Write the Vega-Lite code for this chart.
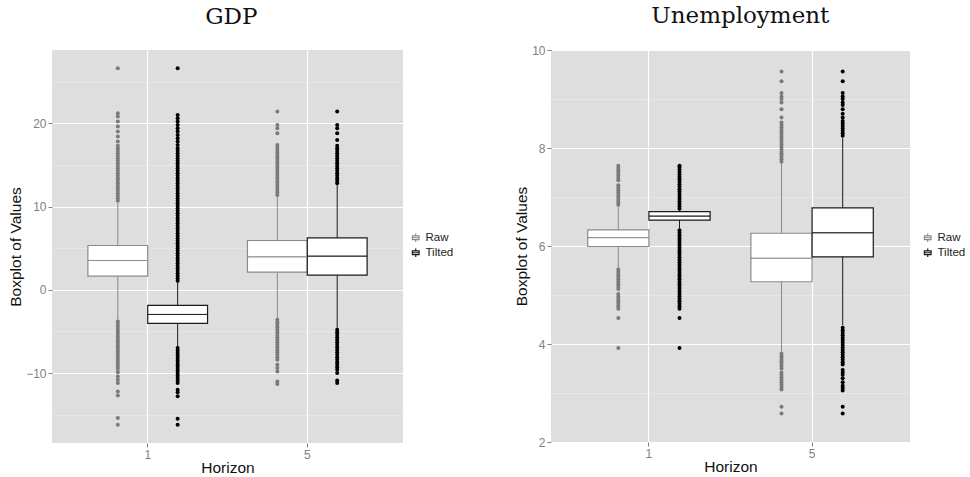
{
  "$schema": "https://vega.github.io/schema/vega-lite/v6.json",
  "background": "white",
  "padding": {"left": 8, "top": 5, "right": 0, "bottom": 0},
  "spacing": 60,
  "config": {
    "font": "Liberation Sans",
    "view": {"fill": "#dedede", "stroke": null},
    "title": {"font": "DejaVu Serif", "fontSize": 23, "fontWeight": "normal", "color": "#111111", "anchor": "middle", "frame": "bounds", "offset": 21},
    "axis": {"labelFontSize": 12, "labelColor": "#7f7f7f", "tickColor": "#7f7f7f", "tickSize": 4, "labelPadding": 2, "domain": false, "titleFontSize": 15.5, "titleFontWeight": "normal", "titleColor": "#111111", "titlePadding": 2, "gridColor": "#ffffff", "gridWidth": 1.2},
    "legend": {"labelFontSize": 11.5, "labelColor": "#222222", "rowPadding": 1, "symbolFillColor": "white"}
  },
  "resolve": {"scale": {"y": "independent", "x": "independent", "xOffset": "independent", "stroke": "independent", "fill": "independent", "color": "independent"}, "legend": {"stroke": "independent"}},
  "datasets": {
    "gdp_box": [
      {"horizon": "1", "series": "Raw", "lower": -3.6, "q1": 1.64, "median": 3.52, "q3": 5.32, "upper": 10.5},
      {"horizon": "1", "series": "Tilted", "lower": -6.9, "q1": -4.04, "median": -2.96, "q3": -1.88, "upper": 1.0},
      {"horizon": "5", "series": "Raw", "lower": -3.5, "q1": 2.12, "median": 3.96, "q3": 5.92, "upper": 11.3},
      {"horizon": "5", "series": "Tilted", "lower": -4.7, "q1": 1.76, "median": 4.04, "q3": 6.24, "upper": 12.7}
    ],
    "gdp_out": [
      {"horizon": "1", "series": "Raw", "value": 10.7}, {"horizon": "1", "series": "Raw", "value": 11.0}, {"horizon": "1", "series": "Raw", "value": 11.3}, {"horizon": "1", "series": "Raw", "value": 11.6}, {"horizon": "1", "series": "Raw", "value": 11.9}, {"horizon": "1", "series": "Raw", "value": 12.2}, {"horizon": "1", "series": "Raw", "value": 12.5}, {"horizon": "1", "series": "Raw", "value": 12.8}, {"horizon": "1", "series": "Raw", "value": 13.1}, {"horizon": "1", "series": "Raw", "value": 13.4}, {"horizon": "1", "series": "Raw", "value": 13.7}, {"horizon": "1", "series": "Raw", "value": 14.0}, {"horizon": "1", "series": "Raw", "value": 14.3}, {"horizon": "1", "series": "Raw", "value": 14.6}, {"horizon": "1", "series": "Raw", "value": 14.9}, {"horizon": "1", "series": "Raw", "value": 15.2}, {"horizon": "1", "series": "Raw", "value": 15.5}, {"horizon": "1", "series": "Raw", "value": 15.8}, {"horizon": "1", "series": "Raw", "value": 16.1}, {"horizon": "1", "series": "Raw", "value": 16.4}, {"horizon": "1", "series": "Raw", "value": 16.7}, {"horizon": "1", "series": "Raw", "value": 17.0}, {"horizon": "1", "series": "Raw", "value": 17.3}, {"horizon": "1", "series": "Raw", "value": 17.8}, {"horizon": "1", "series": "Raw", "value": 18.4}, {"horizon": "1", "series": "Raw", "value": 19.0}, {"horizon": "1", "series": "Raw", "value": 19.6}, {"horizon": "1", "series": "Raw", "value": 20.2}, {"horizon": "1", "series": "Raw", "value": 20.8}, {"horizon": "1", "series": "Raw", "value": 21.2}, {"horizon": "1", "series": "Raw", "value": 26.6},
      {"horizon": "1", "series": "Raw", "value": -3.8}, {"horizon": "1", "series": "Raw", "value": -4.1}, {"horizon": "1", "series": "Raw", "value": -4.4}, {"horizon": "1", "series": "Raw", "value": -4.7}, {"horizon": "1", "series": "Raw", "value": -5.0}, {"horizon": "1", "series": "Raw", "value": -5.3}, {"horizon": "1", "series": "Raw", "value": -5.6}, {"horizon": "1", "series": "Raw", "value": -5.9}, {"horizon": "1", "series": "Raw", "value": -6.2}, {"horizon": "1", "series": "Raw", "value": -6.5}, {"horizon": "1", "series": "Raw", "value": -6.8}, {"horizon": "1", "series": "Raw", "value": -7.1}, {"horizon": "1", "series": "Raw", "value": -7.4}, {"horizon": "1", "series": "Raw", "value": -7.7}, {"horizon": "1", "series": "Raw", "value": -8.0}, {"horizon": "1", "series": "Raw", "value": -8.3}, {"horizon": "1", "series": "Raw", "value": -8.6}, {"horizon": "1", "series": "Raw", "value": -8.9}, {"horizon": "1", "series": "Raw", "value": -9.2}, {"horizon": "1", "series": "Raw", "value": -9.5}, {"horizon": "1", "series": "Raw", "value": -9.9}, {"horizon": "1", "series": "Raw", "value": -10.4}, {"horizon": "1", "series": "Raw", "value": -10.8}, {"horizon": "1", "series": "Raw", "value": -11.2}, {"horizon": "1", "series": "Raw", "value": -12.2}, {"horizon": "1", "series": "Raw", "value": -12.7}, {"horizon": "1", "series": "Raw", "value": -15.4}, {"horizon": "1", "series": "Raw", "value": -16.2},
      {"horizon": "1", "series": "Tilted", "value": 1.1}, {"horizon": "1", "series": "Tilted", "value": 1.4}, {"horizon": "1", "series": "Tilted", "value": 1.7}, {"horizon": "1", "series": "Tilted", "value": 2.0}, {"horizon": "1", "series": "Tilted", "value": 2.3}, {"horizon": "1", "series": "Tilted", "value": 2.6}, {"horizon": "1", "series": "Tilted", "value": 2.9}, {"horizon": "1", "series": "Tilted", "value": 3.2}, {"horizon": "1", "series": "Tilted", "value": 3.5}, {"horizon": "1", "series": "Tilted", "value": 3.8}, {"horizon": "1", "series": "Tilted", "value": 4.1}, {"horizon": "1", "series": "Tilted", "value": 4.4}, {"horizon": "1", "series": "Tilted", "value": 4.7}, {"horizon": "1", "series": "Tilted", "value": 5.0}, {"horizon": "1", "series": "Tilted", "value": 5.3}, {"horizon": "1", "series": "Tilted", "value": 5.6}, {"horizon": "1", "series": "Tilted", "value": 5.9}, {"horizon": "1", "series": "Tilted", "value": 6.2}, {"horizon": "1", "series": "Tilted", "value": 6.5}, {"horizon": "1", "series": "Tilted", "value": 6.8}, {"horizon": "1", "series": "Tilted", "value": 7.1}, {"horizon": "1", "series": "Tilted", "value": 7.4}, {"horizon": "1", "series": "Tilted", "value": 7.7}, {"horizon": "1", "series": "Tilted", "value": 8.0}, {"horizon": "1", "series": "Tilted", "value": 8.3}, {"horizon": "1", "series": "Tilted", "value": 8.6}, {"horizon": "1", "series": "Tilted", "value": 8.9}, {"horizon": "1", "series": "Tilted", "value": 9.2}, {"horizon": "1", "series": "Tilted", "value": 9.5}, {"horizon": "1", "series": "Tilted", "value": 9.8}, {"horizon": "1", "series": "Tilted", "value": 10.1}, {"horizon": "1", "series": "Tilted", "value": 10.4}, {"horizon": "1", "series": "Tilted", "value": 10.7}, {"horizon": "1", "series": "Tilted", "value": 11.0}, {"horizon": "1", "series": "Tilted", "value": 11.3}, {"horizon": "1", "series": "Tilted", "value": 11.6}, {"horizon": "1", "series": "Tilted", "value": 11.9}, {"horizon": "1", "series": "Tilted", "value": 12.2}, {"horizon": "1", "series": "Tilted", "value": 12.5}, {"horizon": "1", "series": "Tilted", "value": 12.8}, {"horizon": "1", "series": "Tilted", "value": 13.1}, {"horizon": "1", "series": "Tilted", "value": 13.4}, {"horizon": "1", "series": "Tilted", "value": 13.7}, {"horizon": "1", "series": "Tilted", "value": 14.0}, {"horizon": "1", "series": "Tilted", "value": 14.3}, {"horizon": "1", "series": "Tilted", "value": 14.6}, {"horizon": "1", "series": "Tilted", "value": 14.9}, {"horizon": "1", "series": "Tilted", "value": 15.2}, {"horizon": "1", "series": "Tilted", "value": 15.5}, {"horizon": "1", "series": "Tilted", "value": 15.8}, {"horizon": "1", "series": "Tilted", "value": 16.1}, {"horizon": "1", "series": "Tilted", "value": 16.4}, {"horizon": "1", "series": "Tilted", "value": 16.7}, {"horizon": "1", "series": "Tilted", "value": 17.0}, {"horizon": "1", "series": "Tilted", "value": 17.4}, {"horizon": "1", "series": "Tilted", "value": 17.8}, {"horizon": "1", "series": "Tilted", "value": 18.2}, {"horizon": "1", "series": "Tilted", "value": 18.6}, {"horizon": "1", "series": "Tilted", "value": 19.0}, {"horizon": "1", "series": "Tilted", "value": 19.4}, {"horizon": "1", "series": "Tilted", "value": 19.8}, {"horizon": "1", "series": "Tilted", "value": 20.2}, {"horizon": "1", "series": "Tilted", "value": 20.6}, {"horizon": "1", "series": "Tilted", "value": 21.0}, {"horizon": "1", "series": "Tilted", "value": 26.6},
      {"horizon": "1", "series": "Tilted", "value": -7.0}, {"horizon": "1", "series": "Tilted", "value": -7.3}, {"horizon": "1", "series": "Tilted", "value": -7.6}, {"horizon": "1", "series": "Tilted", "value": -7.9}, {"horizon": "1", "series": "Tilted", "value": -8.2}, {"horizon": "1", "series": "Tilted", "value": -8.5}, {"horizon": "1", "series": "Tilted", "value": -8.8}, {"horizon": "1", "series": "Tilted", "value": -9.1}, {"horizon": "1", "series": "Tilted", "value": -9.4}, {"horizon": "1", "series": "Tilted", "value": -9.7}, {"horizon": "1", "series": "Tilted", "value": -10.0}, {"horizon": "1", "series": "Tilted", "value": -10.3}, {"horizon": "1", "series": "Tilted", "value": -10.6}, {"horizon": "1", "series": "Tilted", "value": -10.9}, {"horizon": "1", "series": "Tilted", "value": -11.2}, {"horizon": "1", "series": "Tilted", "value": -12.0}, {"horizon": "1", "series": "Tilted", "value": -12.3}, {"horizon": "1", "series": "Tilted", "value": -12.8}, {"horizon": "1", "series": "Tilted", "value": -15.5}, {"horizon": "1", "series": "Tilted", "value": -16.2},
      {"horizon": "5", "series": "Raw", "value": 11.4}, {"horizon": "5", "series": "Raw", "value": 11.7}, {"horizon": "5", "series": "Raw", "value": 12.0}, {"horizon": "5", "series": "Raw", "value": 12.3}, {"horizon": "5", "series": "Raw", "value": 12.6}, {"horizon": "5", "series": "Raw", "value": 12.9}, {"horizon": "5", "series": "Raw", "value": 13.2}, {"horizon": "5", "series": "Raw", "value": 13.5}, {"horizon": "5", "series": "Raw", "value": 13.8}, {"horizon": "5", "series": "Raw", "value": 14.1}, {"horizon": "5", "series": "Raw", "value": 14.4}, {"horizon": "5", "series": "Raw", "value": 14.7}, {"horizon": "5", "series": "Raw", "value": 15.0}, {"horizon": "5", "series": "Raw", "value": 15.3}, {"horizon": "5", "series": "Raw", "value": 15.6}, {"horizon": "5", "series": "Raw", "value": 15.9}, {"horizon": "5", "series": "Raw", "value": 16.2}, {"horizon": "5", "series": "Raw", "value": 16.5}, {"horizon": "5", "series": "Raw", "value": 16.8}, {"horizon": "5", "series": "Raw", "value": 17.1}, {"horizon": "5", "series": "Raw", "value": 17.4}, {"horizon": "5", "series": "Raw", "value": 18.8}, {"horizon": "5", "series": "Raw", "value": 19.4}, {"horizon": "5", "series": "Raw", "value": 19.8}, {"horizon": "5", "series": "Raw", "value": 21.4},
      {"horizon": "5", "series": "Raw", "value": -3.6}, {"horizon": "5", "series": "Raw", "value": -3.9}, {"horizon": "5", "series": "Raw", "value": -4.2}, {"horizon": "5", "series": "Raw", "value": -4.5}, {"horizon": "5", "series": "Raw", "value": -4.8}, {"horizon": "5", "series": "Raw", "value": -5.1}, {"horizon": "5", "series": "Raw", "value": -5.4}, {"horizon": "5", "series": "Raw", "value": -5.7}, {"horizon": "5", "series": "Raw", "value": -6.0}, {"horizon": "5", "series": "Raw", "value": -6.3}, {"horizon": "5", "series": "Raw", "value": -6.6}, {"horizon": "5", "series": "Raw", "value": -6.9}, {"horizon": "5", "series": "Raw", "value": -7.2}, {"horizon": "5", "series": "Raw", "value": -7.5}, {"horizon": "5", "series": "Raw", "value": -7.8}, {"horizon": "5", "series": "Raw", "value": -8.1}, {"horizon": "5", "series": "Raw", "value": -8.4}, {"horizon": "5", "series": "Raw", "value": -9.0}, {"horizon": "5", "series": "Raw", "value": -9.4}, {"horizon": "5", "series": "Raw", "value": -9.8}, {"horizon": "5", "series": "Raw", "value": -11.0}, {"horizon": "5", "series": "Raw", "value": -11.3},
      {"horizon": "5", "series": "Tilted", "value": 12.8}, {"horizon": "5", "series": "Tilted", "value": 13.1}, {"horizon": "5", "series": "Tilted", "value": 13.4}, {"horizon": "5", "series": "Tilted", "value": 13.7}, {"horizon": "5", "series": "Tilted", "value": 14.0}, {"horizon": "5", "series": "Tilted", "value": 14.3}, {"horizon": "5", "series": "Tilted", "value": 14.6}, {"horizon": "5", "series": "Tilted", "value": 14.9}, {"horizon": "5", "series": "Tilted", "value": 15.2}, {"horizon": "5", "series": "Tilted", "value": 15.5}, {"horizon": "5", "series": "Tilted", "value": 15.8}, {"horizon": "5", "series": "Tilted", "value": 16.1}, {"horizon": "5", "series": "Tilted", "value": 16.4}, {"horizon": "5", "series": "Tilted", "value": 16.7}, {"horizon": "5", "series": "Tilted", "value": 17.0}, {"horizon": "5", "series": "Tilted", "value": 17.3}, {"horizon": "5", "series": "Tilted", "value": 18.0}, {"horizon": "5", "series": "Tilted", "value": 18.8}, {"horizon": "5", "series": "Tilted", "value": 19.4}, {"horizon": "5", "series": "Tilted", "value": 19.8}, {"horizon": "5", "series": "Tilted", "value": 21.4},
      {"horizon": "5", "series": "Tilted", "value": -4.8}, {"horizon": "5", "series": "Tilted", "value": -5.1}, {"horizon": "5", "series": "Tilted", "value": -5.4}, {"horizon": "5", "series": "Tilted", "value": -5.7}, {"horizon": "5", "series": "Tilted", "value": -6.0}, {"horizon": "5", "series": "Tilted", "value": -6.3}, {"horizon": "5", "series": "Tilted", "value": -6.6}, {"horizon": "5", "series": "Tilted", "value": -6.9}, {"horizon": "5", "series": "Tilted", "value": -7.2}, {"horizon": "5", "series": "Tilted", "value": -7.5}, {"horizon": "5", "series": "Tilted", "value": -7.8}, {"horizon": "5", "series": "Tilted", "value": -8.1}, {"horizon": "5", "series": "Tilted", "value": -8.4}, {"horizon": "5", "series": "Tilted", "value": -8.7}, {"horizon": "5", "series": "Tilted", "value": -9.0}, {"horizon": "5", "series": "Tilted", "value": -9.3}, {"horizon": "5", "series": "Tilted", "value": -9.6}, {"horizon": "5", "series": "Tilted", "value": -10.0}, {"horizon": "5", "series": "Tilted", "value": -10.9}, {"horizon": "5", "series": "Tilted", "value": -11.2}
    ],
    "un_box": [
      {"horizon": "1", "series": "Raw", "lower": 5.55, "q1": 5.99, "median": 6.17, "q3": 6.33, "upper": 6.80},
      {"horizon": "1", "series": "Tilted", "lower": 6.36, "q1": 6.53, "median": 6.61, "q3": 6.70, "upper": 6.74},
      {"horizon": "5", "series": "Raw", "lower": 3.84, "q1": 5.27, "median": 5.75, "q3": 6.26, "upper": 7.68},
      {"horizon": "5", "series": "Tilted", "lower": 4.38, "q1": 5.78, "median": 6.27, "q3": 6.78, "upper": 8.20}
    ],
    "un_out": [
      {"horizon": "1", "series": "Raw", "value": 6.84}, {"horizon": "1", "series": "Raw", "value": 6.89}, {"horizon": "1", "series": "Raw", "value": 6.94}, {"horizon": "1", "series": "Raw", "value": 6.99}, {"horizon": "1", "series": "Raw", "value": 7.04}, {"horizon": "1", "series": "Raw", "value": 7.09}, {"horizon": "1", "series": "Raw", "value": 7.14}, {"horizon": "1", "series": "Raw", "value": 7.19}, {"horizon": "1", "series": "Raw", "value": 7.24}, {"horizon": "1", "series": "Raw", "value": 7.34}, {"horizon": "1", "series": "Raw", "value": 7.39}, {"horizon": "1", "series": "Raw", "value": 7.44}, {"horizon": "1", "series": "Raw", "value": 7.49}, {"horizon": "1", "series": "Raw", "value": 7.54}, {"horizon": "1", "series": "Raw", "value": 7.59}, {"horizon": "1", "series": "Raw", "value": 7.64},
      {"horizon": "1", "series": "Raw", "value": 5.52}, {"horizon": "1", "series": "Raw", "value": 5.47}, {"horizon": "1", "series": "Raw", "value": 5.42}, {"horizon": "1", "series": "Raw", "value": 5.37}, {"horizon": "1", "series": "Raw", "value": 5.32}, {"horizon": "1", "series": "Raw", "value": 5.27}, {"horizon": "1", "series": "Raw", "value": 5.22}, {"horizon": "1", "series": "Raw", "value": 5.17}, {"horizon": "1", "series": "Raw", "value": 5.12}, {"horizon": "1", "series": "Raw", "value": 5.02}, {"horizon": "1", "series": "Raw", "value": 4.97}, {"horizon": "1", "series": "Raw", "value": 4.92}, {"horizon": "1", "series": "Raw", "value": 4.87}, {"horizon": "1", "series": "Raw", "value": 4.82}, {"horizon": "1", "series": "Raw", "value": 4.77}, {"horizon": "1", "series": "Raw", "value": 4.72}, {"horizon": "1", "series": "Raw", "value": 4.53}, {"horizon": "1", "series": "Raw", "value": 3.92},
      {"horizon": "1", "series": "Tilted", "value": 6.76}, {"horizon": "1", "series": "Tilted", "value": 6.81}, {"horizon": "1", "series": "Tilted", "value": 6.86}, {"horizon": "1", "series": "Tilted", "value": 6.91}, {"horizon": "1", "series": "Tilted", "value": 6.96}, {"horizon": "1", "series": "Tilted", "value": 7.01}, {"horizon": "1", "series": "Tilted", "value": 7.06}, {"horizon": "1", "series": "Tilted", "value": 7.11}, {"horizon": "1", "series": "Tilted", "value": 7.16}, {"horizon": "1", "series": "Tilted", "value": 7.21}, {"horizon": "1", "series": "Tilted", "value": 7.26}, {"horizon": "1", "series": "Tilted", "value": 7.31}, {"horizon": "1", "series": "Tilted", "value": 7.36}, {"horizon": "1", "series": "Tilted", "value": 7.41}, {"horizon": "1", "series": "Tilted", "value": 7.46}, {"horizon": "1", "series": "Tilted", "value": 7.51}, {"horizon": "1", "series": "Tilted", "value": 7.56}, {"horizon": "1", "series": "Tilted", "value": 7.61}, {"horizon": "1", "series": "Tilted", "value": 7.64},
      {"horizon": "1", "series": "Tilted", "value": 6.32}, {"horizon": "1", "series": "Tilted", "value": 6.27}, {"horizon": "1", "series": "Tilted", "value": 6.22}, {"horizon": "1", "series": "Tilted", "value": 6.17}, {"horizon": "1", "series": "Tilted", "value": 6.12}, {"horizon": "1", "series": "Tilted", "value": 6.07}, {"horizon": "1", "series": "Tilted", "value": 6.02}, {"horizon": "1", "series": "Tilted", "value": 5.97}, {"horizon": "1", "series": "Tilted", "value": 5.92}, {"horizon": "1", "series": "Tilted", "value": 5.87}, {"horizon": "1", "series": "Tilted", "value": 5.82}, {"horizon": "1", "series": "Tilted", "value": 5.77}, {"horizon": "1", "series": "Tilted", "value": 5.72}, {"horizon": "1", "series": "Tilted", "value": 5.67}, {"horizon": "1", "series": "Tilted", "value": 5.62}, {"horizon": "1", "series": "Tilted", "value": 5.57}, {"horizon": "1", "series": "Tilted", "value": 5.52}, {"horizon": "1", "series": "Tilted", "value": 5.47}, {"horizon": "1", "series": "Tilted", "value": 5.42}, {"horizon": "1", "series": "Tilted", "value": 5.37}, {"horizon": "1", "series": "Tilted", "value": 5.32}, {"horizon": "1", "series": "Tilted", "value": 5.27}, {"horizon": "1", "series": "Tilted", "value": 5.22}, {"horizon": "1", "series": "Tilted", "value": 5.17}, {"horizon": "1", "series": "Tilted", "value": 5.12}, {"horizon": "1", "series": "Tilted", "value": 5.07}, {"horizon": "1", "series": "Tilted", "value": 5.02}, {"horizon": "1", "series": "Tilted", "value": 4.97}, {"horizon": "1", "series": "Tilted", "value": 4.92}, {"horizon": "1", "series": "Tilted", "value": 4.87}, {"horizon": "1", "series": "Tilted", "value": 4.82}, {"horizon": "1", "series": "Tilted", "value": 4.77}, {"horizon": "1", "series": "Tilted", "value": 4.72}, {"horizon": "1", "series": "Tilted", "value": 4.53}, {"horizon": "1", "series": "Tilted", "value": 3.92},
      {"horizon": "5", "series": "Raw", "value": 7.72}, {"horizon": "5", "series": "Raw", "value": 7.77}, {"horizon": "5", "series": "Raw", "value": 7.82}, {"horizon": "5", "series": "Raw", "value": 7.87}, {"horizon": "5", "series": "Raw", "value": 7.92}, {"horizon": "5", "series": "Raw", "value": 7.97}, {"horizon": "5", "series": "Raw", "value": 8.02}, {"horizon": "5", "series": "Raw", "value": 8.07}, {"horizon": "5", "series": "Raw", "value": 8.12}, {"horizon": "5", "series": "Raw", "value": 8.17}, {"horizon": "5", "series": "Raw", "value": 8.22}, {"horizon": "5", "series": "Raw", "value": 8.27}, {"horizon": "5", "series": "Raw", "value": 8.32}, {"horizon": "5", "series": "Raw", "value": 8.37}, {"horizon": "5", "series": "Raw", "value": 8.42}, {"horizon": "5", "series": "Raw", "value": 8.47}, {"horizon": "5", "series": "Raw", "value": 8.52}, {"horizon": "5", "series": "Raw", "value": 8.62}, {"horizon": "5", "series": "Raw", "value": 8.79}, {"horizon": "5", "series": "Raw", "value": 8.93}, {"horizon": "5", "series": "Raw", "value": 9.0}, {"horizon": "5", "series": "Raw", "value": 9.05}, {"horizon": "5", "series": "Raw", "value": 9.12}, {"horizon": "5", "series": "Raw", "value": 9.36}, {"horizon": "5", "series": "Raw", "value": 9.56},
      {"horizon": "5", "series": "Raw", "value": 3.8}, {"horizon": "5", "series": "Raw", "value": 3.75}, {"horizon": "5", "series": "Raw", "value": 3.7}, {"horizon": "5", "series": "Raw", "value": 3.65}, {"horizon": "5", "series": "Raw", "value": 3.6}, {"horizon": "5", "series": "Raw", "value": 3.55}, {"horizon": "5", "series": "Raw", "value": 3.5}, {"horizon": "5", "series": "Raw", "value": 3.42}, {"horizon": "5", "series": "Raw", "value": 3.37}, {"horizon": "5", "series": "Raw", "value": 3.32}, {"horizon": "5", "series": "Raw", "value": 3.27}, {"horizon": "5", "series": "Raw", "value": 3.22}, {"horizon": "5", "series": "Raw", "value": 3.17}, {"horizon": "5", "series": "Raw", "value": 3.12}, {"horizon": "5", "series": "Raw", "value": 3.07}, {"horizon": "5", "series": "Raw", "value": 2.72}, {"horizon": "5", "series": "Raw", "value": 2.58},
      {"horizon": "5", "series": "Tilted", "value": 8.25}, {"horizon": "5", "series": "Tilted", "value": 8.3}, {"horizon": "5", "series": "Tilted", "value": 8.35}, {"horizon": "5", "series": "Tilted", "value": 8.4}, {"horizon": "5", "series": "Tilted", "value": 8.45}, {"horizon": "5", "series": "Tilted", "value": 8.5}, {"horizon": "5", "series": "Tilted", "value": 8.55}, {"horizon": "5", "series": "Tilted", "value": 8.62}, {"horizon": "5", "series": "Tilted", "value": 8.7}, {"horizon": "5", "series": "Tilted", "value": 8.79}, {"horizon": "5", "series": "Tilted", "value": 8.88}, {"horizon": "5", "series": "Tilted", "value": 8.93}, {"horizon": "5", "series": "Tilted", "value": 9.0}, {"horizon": "5", "series": "Tilted", "value": 9.05}, {"horizon": "5", "series": "Tilted", "value": 9.12}, {"horizon": "5", "series": "Tilted", "value": 9.36}, {"horizon": "5", "series": "Tilted", "value": 9.56},
      {"horizon": "5", "series": "Tilted", "value": 4.33}, {"horizon": "5", "series": "Tilted", "value": 4.28}, {"horizon": "5", "series": "Tilted", "value": 4.23}, {"horizon": "5", "series": "Tilted", "value": 4.18}, {"horizon": "5", "series": "Tilted", "value": 4.13}, {"horizon": "5", "series": "Tilted", "value": 4.08}, {"horizon": "5", "series": "Tilted", "value": 4.03}, {"horizon": "5", "series": "Tilted", "value": 3.98}, {"horizon": "5", "series": "Tilted", "value": 3.93}, {"horizon": "5", "series": "Tilted", "value": 3.88}, {"horizon": "5", "series": "Tilted", "value": 3.83}, {"horizon": "5", "series": "Tilted", "value": 3.78}, {"horizon": "5", "series": "Tilted", "value": 3.73}, {"horizon": "5", "series": "Tilted", "value": 3.68}, {"horizon": "5", "series": "Tilted", "value": 3.63}, {"horizon": "5", "series": "Tilted", "value": 3.58}, {"horizon": "5", "series": "Tilted", "value": 3.47}, {"horizon": "5", "series": "Tilted", "value": 3.42}, {"horizon": "5", "series": "Tilted", "value": 3.37}, {"horizon": "5", "series": "Tilted", "value": 3.3}, {"horizon": "5", "series": "Tilted", "value": 3.22}, {"horizon": "5", "series": "Tilted", "value": 3.15}, {"horizon": "5", "series": "Tilted", "value": 3.1}, {"horizon": "5", "series": "Tilted", "value": 3.05}, {"horizon": "5", "series": "Tilted", "value": 2.72}, {"horizon": "5", "series": "Tilted", "value": 2.58}
    ]
  },
  "hconcat": [
    {
      "title": {"text": "GDP"},
      "width": 351,
      "height": 393,
      "resolve": {"axis": {"y": "independent"}},
      "layer": [
        {
          "data": {"name": "gdp_box"},
          "mark": {"type": "rule", "opacity": 0},
          "encoding": {
            "y": {"field": "median", "type": "quantitative", "scale": {"domain": [-18.4, 28.8], "nice": false, "zero": false}, "axis": {"orient": "left", "values": [-15, -5, 5, 15, 25], "grid": true, "gridColor": "#ececec", "gridWidth": 0.6, "labels": false, "ticks": false, "domain": false, "title": null}}
          }
        },
        {
          "data": {"name": "gdp_box"},
          "mark": {"type": "rule", "strokeWidth": 1},
          "encoding": {
            "x": {"field": "horizon", "type": "nominal", "scale": {"paddingInner": 0, "paddingOuter": 0.1}, "axis": {"title": "Horizon", "labelAngle": 0, "grid": true, "bandPosition": 0.5, "titlePadding": 0}},
            "xOffset": {"field": "series", "type": "nominal", "scale": {"paddingInner": 0, "paddingOuter": 0.3333}},
            "y": {"field": "lower", "type": "quantitative", "scale": {"domain": [-18.4, 28.8], "nice": false, "zero": false}, "axis": {"orient": "left", "title": "Boxplot of Values", "values": [-10, 0, 10, 20], "grid": true}},
            "y2": {"field": "upper"},
            "color": {"field": "series", "type": "nominal", "scale": {"range": ["#8a8a8a", "#1a1a1a"]}, "legend": null}
          }
        },
        {
          "data": {"name": "gdp_box"},
          "mark": {"type": "bar", "fill": "white", "strokeWidth": 1.2},
          "encoding": {
            "x": {"field": "horizon", "type": "nominal"},
            "xOffset": {"field": "series", "type": "nominal"},
            "y": {"field": "q1", "type": "quantitative", "scale": {"domain": [-18.4, 28.8], "nice": false, "zero": false}, "axis": null},
            "y2": {"field": "q3"},
            "stroke": {"field": "series", "type": "nominal", "scale": {"domain": ["Raw", "Tilted"], "range": ["#8a8a8a", "#1a1a1a"]}, "legend": {"title": null, "orient": "none", "legendX": 358, "legendY": 182, "symbolType": "M-0.8,-0.45H0.8V0.45H-0.8Z M-0.8,0H0.8 M0,-0.45V-1 M0,0.45V1", "symbolSize": 70, "symbolStrokeWidth": 1.2, "symbolFillColor": "white"}}
          }
        },
        {
          "data": {"name": "gdp_box"},
          "mark": {"type": "bar", "filled": false, "strokeWidth": 0.8},
          "encoding": {
            "x": {"field": "horizon", "type": "nominal"},
            "xOffset": {"field": "series", "type": "nominal"},
            "y": {"field": "median", "type": "quantitative", "scale": {"domain": [-18.4, 28.8], "nice": false, "zero": false}, "axis": null},
            "y2": {"field": "median"},
            "color": {"field": "series", "type": "nominal", "legend": null}
          }
        },
        {
          "data": {"name": "gdp_out"},
          "mark": {"type": "point", "filled": true, "size": 16, "opacity": 1, "strokeWidth": 0},
          "encoding": {
            "x": {"field": "horizon", "type": "nominal"},
            "xOffset": {"field": "series", "type": "nominal"},
            "y": {"field": "value", "type": "quantitative", "scale": {"domain": [-18.4, 28.8], "nice": false, "zero": false}, "axis": null},
            "fill": {"field": "series", "type": "nominal", "scale": {"range": ["#7a7a7a", "#000000"]}, "legend": null}
          }
        }
      ]
    },
    {
      "title": {"text": "Unemployment", "dy": 5},
      "width": 359,
      "height": 392,
      "resolve": {"axis": {"y": "independent"}},
      "layer": [
        {
          "data": {"name": "un_box"},
          "mark": {"type": "rule", "opacity": 0},
          "encoding": {
            "y": {"field": "median", "type": "quantitative", "scale": {"domain": [2, 10], "nice": false, "zero": false}, "axis": {"orient": "left", "values": [3, 5, 7, 9], "grid": true, "gridColor": "#ececec", "gridWidth": 0.6, "labels": false, "ticks": false, "domain": false, "title": null}}
          }
        },
        {
          "data": {"name": "un_box"},
          "mark": {"type": "rule", "strokeWidth": 1},
          "encoding": {
            "x": {"field": "horizon", "type": "nominal", "scale": {"paddingInner": 0, "paddingOuter": 0.1}, "axis": {"title": "Horizon", "labelAngle": 0, "grid": true, "bandPosition": 0.5, "titlePadding": 0}},
            "xOffset": {"field": "series", "type": "nominal", "scale": {"paddingInner": 0, "paddingOuter": 0.3333}},
            "y": {"field": "lower", "type": "quantitative", "scale": {"domain": [2, 10], "nice": false, "zero": false}, "axis": {"orient": "left", "title": "Boxplot of Values", "values": [2, 4, 6, 8, 10], "grid": true}},
            "y2": {"field": "upper"},
            "color": {"field": "series", "type": "nominal", "scale": {"range": ["#8a8a8a", "#1a1a1a"]}, "legend": null}
          }
        },
        {
          "data": {"name": "un_box"},
          "mark": {"type": "bar", "fill": "white", "strokeWidth": 1.2},
          "encoding": {
            "x": {"field": "horizon", "type": "nominal"},
            "xOffset": {"field": "series", "type": "nominal"},
            "y": {"field": "q1", "type": "quantitative", "scale": {"domain": [2, 10], "nice": false, "zero": false}, "axis": null},
            "y2": {"field": "q3"},
            "stroke": {"field": "series", "type": "nominal", "scale": {"domain": ["Raw", "Tilted"], "range": ["#8a8a8a", "#1a1a1a"]}, "legend": {"title": null, "orient": "none", "legendX": 371, "legendY": 182, "symbolType": "M-0.8,-0.45H0.8V0.45H-0.8Z M-0.8,0H0.8 M0,-0.45V-1 M0,0.45V1", "symbolSize": 70, "symbolStrokeWidth": 1.2, "symbolFillColor": "white"}}
          }
        },
        {
          "data": {"name": "un_box"},
          "mark": {"type": "bar", "filled": false, "strokeWidth": 0.8},
          "encoding": {
            "x": {"field": "horizon", "type": "nominal"},
            "xOffset": {"field": "series", "type": "nominal"},
            "y": {"field": "median", "type": "quantitative", "scale": {"domain": [2, 10], "nice": false, "zero": false}, "axis": null},
            "y2": {"field": "median"},
            "color": {"field": "series", "type": "nominal", "legend": null}
          }
        },
        {
          "data": {"name": "un_out"},
          "mark": {"type": "point", "filled": true, "size": 16, "opacity": 1, "strokeWidth": 0},
          "encoding": {
            "x": {"field": "horizon", "type": "nominal"},
            "xOffset": {"field": "series", "type": "nominal"},
            "y": {"field": "value", "type": "quantitative", "scale": {"domain": [2, 10], "nice": false, "zero": false}, "axis": null},
            "fill": {"field": "series", "type": "nominal", "scale": {"range": ["#7a7a7a", "#000000"]}, "legend": null}
          }
        }
      ]
    }
  ]
}
